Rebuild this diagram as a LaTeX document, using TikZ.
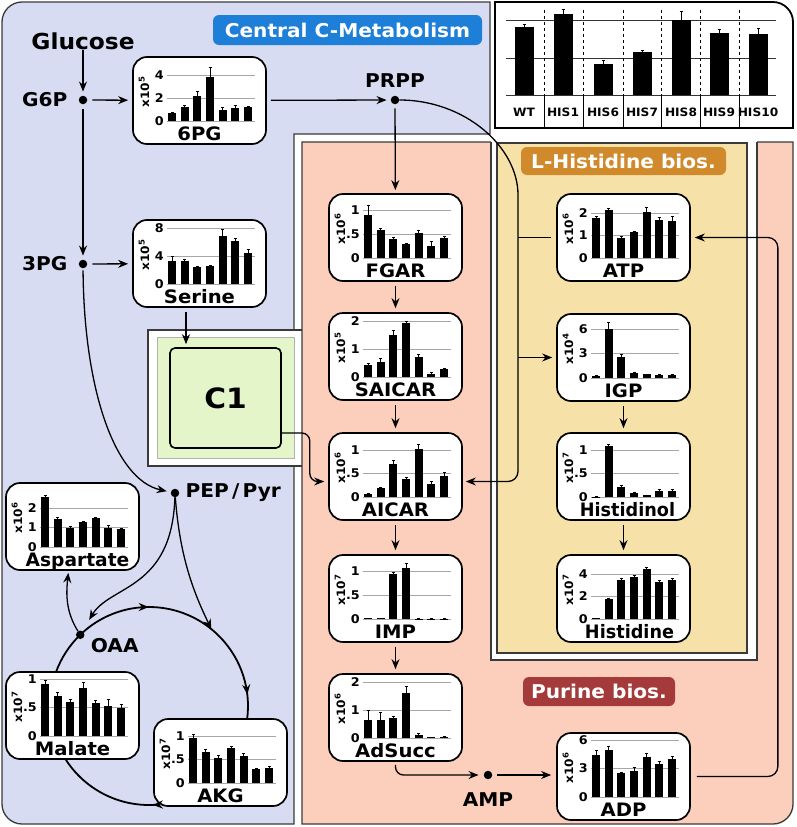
\documentclass[tikz,border=0pt]{standalone}
\usepackage{fontspec}
\setmainfont{DejaVu Sans}[FakeStretch=1.06]
\usepackage{tikz}
\usetikzlibrary{positioning, arrows.meta, calc, decorations.markings}
\definecolor{cmetblue}{HTML}{D8DCF3}
\definecolor{purpink}{HTML}{FCCFBD}
\definecolor{hisyellow}{HTML}{F6E2A8}
\definecolor{cgreen}{HTML}{E3F5C9}
\definecolor{titleblue}{HTML}{1D7FD8}
\definecolor{titleorange}{HTML}{D08A2C}
\definecolor{titlered}{HTML}{A43A3A}
\definecolor{panelline}{HTML}{3A3A3A}

% name, top-left, label, exponent, top tick, mid tick, top value, top height, bars
\newcommand{\minichart}[9]{%
  \begin{scope}[shift={(#2)}]
    \node[chartbox] (#1) at (66.5,43.5) {};
    \foreach \g in {0,0.5,1}
      \draw[gridln] (34,{64-\g*#8}) -- (122,{64-\g*#8});
    \foreach \bv/\be [count=\i] in {#9} {
      \pgfmathsetmacro{\bx}{26.33+\i*12.67}
      \fill (\bx-4,64) rectangle (\bx+4,{64-\bv/#7*#8});
      \draw[errbar] (\bx,{64-\bv/#7*#8}) -- (\bx,{64-\be/#7*#8});
      \draw[errbar] (\bx-1.5,{64-\be/#7*#8}) -- (\bx+1.5,{64-\be/#7*#8});
    }
    \node[ticklbl] at (31,{64-#8}) {#5};
    \node[ticklbl] at (31,{64-#8/2}) {#6};
    \node[ticklbl] at (31,64) {0};
    \node[explbl] at (11,35) {x10\textsuperscript{#4}};
    \node[chartlbl] at (66.5,83.5) {#3};
  \end{scope}}

\begin{document}
\begin{tikzpicture}[x=1pt, y=-1pt,
  chartbox/.style={rectangle, rounded corners=14pt, draw=black, line width=1.7pt, fill=white,
    minimum width=133pt, minimum height=87pt, inner sep=0pt},
  gridln/.style={gray!70, line width=0.7pt},
  errbar/.style={line width=0.7pt},
  ticklbl/.style={anchor=east, inner sep=0pt, font=\fontsize{12}{12}\selectfont\bfseries},
  explbl/.style={rotate=90, inner sep=0pt, font=\fontsize{11.5}{11.5}\selectfont\bfseries},
  chartlbl/.style={anchor=base, inner sep=0pt, font=\fontsize{18.5}{18.5}\selectfont\bfseries},
  metlbl/.style={inner sep=0pt, font=\fontsize{19}{19}\selectfont\bfseries},
  dotnd/.style={circle, fill=black, inner sep=0pt, minimum size=8.5pt},
  arr/.style={-{Stealth[length=10pt,width=8pt]}, line width=1.3pt},
  cyc/.style={line width=1.8pt},
  title/.style={rounded corners=6pt, text=white, inner sep=0pt, font=\fontsize{19}{19}\selectfont\bfseries},
  panel/.style={draw=panelline, line width=1.3pt},
  leglbl/.style={inner sep=0pt, font=\fontsize{11.5}{11.5}\selectfont\bfseries}
]
\useasboundingbox (0,0) rectangle (797,827);

% panels
\path[panel, fill=cmetblue] (2,22) .. controls (2,11) and (11,2) .. (22,2) -- (490,2) -- (490,134)
  -- (294,134) -- (294,824) -- (22,824) .. controls (11,824) and (2,815) .. (2,804) -- cycle;
\fill[white] (148,330) rectangle (302,466);
\draw[panel] (302,330) -- (148,330) -- (148,466) -- (302,466);
\path[panel, fill=purpink] (302,142) -- (793,142) -- (793,804) .. controls (793,815) and (784,824) .. (773,824)
  -- (302,824) -- cycle;
\fill[white] (491,134) rectangle (757,660);
\draw[panel] (491,142) -- (491,660) -- (757,660) -- (757,142);
\path[panel, fill=hisyellow] (497,143) rectangle (747,653);
\path[draw=black, line width=1.8pt, fill=white] (495,128) -- (495,2) -- (773,2) .. controls (784,2) and (793,11) .. (793,22)
  -- (793,128) -- cycle;
\draw[draw=gray!60, fill=cgreen] (157,337) rectangle (294,458);

\node[title, fill=titleblue, minimum width=269pt, minimum height=30pt] (cmettitle) at (347.5,30) {Central C-Metabolism};
\node[title, fill=titleorange, minimum width=205pt, minimum height=28pt] (histitle) at (623.5,161) {L-Histidine bios.};
\node[title, fill=titlered, minimum width=152pt, minimum height=29pt] (purtitle) at (599,691.5) {Purine bios.};

% legend
\foreach \gy in {20,58,95}
  \draw[gray!40!black, line width=0.8pt] (506,\gy) -- (776,\gy);
\foreach \sx in {544,583,623,661,700,739} {
  \draw[dashed, line width=0.8pt] (\sx,10) -- (\sx,95);
  \draw[line width=0.8pt] (\sx,95) -- (\sx,127);
}
\foreach \bx/\bt/\be in {524/27/24, 563/14/9, 603/64/60, 642/52/50, 681/20/11, 719/33/29, 758/34/28} {
  \fill (\bx-9.5,95) rectangle (\bx+9.5,\bt);
  \draw[errbar] (\bx,\bt) -- (\bx,\be);
  \draw[errbar] (\bx-1.5,\be) -- (\bx+1.5,\be);
}
\foreach \lx/\lt [count=\i] in {524/WT, 563/HIS1, 603/HIS6, 642/HIS7, 681/HIS8, 719/HIS9, 758/HIS10}
  \node[leglbl] (leg\i) at (\lx,112) {\lt};

% C1
\node[draw, line width=1.6pt, rounded corners=5pt, fill=cgreen, minimum width=111pt, minimum height=100pt,
  font=\fontsize{28}{28}\selectfont\bfseries] (c1in) at (225.5,398) {C1};

% charts
\minichart{pg6}{133,57}{6PG}{5}{4}{2}{4}{46}{0.7/0.75, 1.2/1.4, 2.2/2.6, 3.8/4.7, 1.0/1.15, 1.1/1.35, 1.2/1.3}
\minichart{ser}{133,220}{Serine}{5}{8}{4}{8}{56}{3.3/3.9, 3.3/3.5, 2.4/2.5, 2.6/2.7, 6.9/7.8, 6.1/6.5, 4.5/4.9}
\minichart{fgar}{329,194}{FGAR}{6}{1}{.5}{1}{48}{0.9/1.1, 0.58/0.62, 0.4/0.42, 0.3/0.31, 0.53/0.57, 0.26/0.34, 0.42/0.46}
\minichart{saicar}{329,313}{SAICAR}{5}{2}{1}{2}{56}{0.42/0.48, 0.54/0.68, 1.5/1.65, 1.93/1.97, 0.73/0.8, 0.12/0.15, 0.28/0.32}
\minichart{aicar}{329,433}{AICAR}{6}{1}{.5}{1}{47}{0.07/0.08, 0.19/0.2, 0.71/0.78, 0.39/0.42, 1.02/1.12, 0.27/0.33, 0.44/0.53}
\minichart{imp}{329,555}{IMP}{7}{1}{.5}{1}{48}{0.02/0.02, 0.02/0.02, 0.94/0.98, 1.06/1.16, 0.01/0.01, 0.01/0.01, 0.01/0.01}
\minichart{adsucc}{329,674}{AdSucc}{6}{2}{1}{2}{56}{0.66/0.97, 0.66/0.9, 0.73/0.77, 1.59/1.85, 0.12/0.15, 0.03/0.04, 0.05/0.06}
\minichart{adp}{557,733}{ADP}{6}{6}{3}{6}{57}{4.4/4.9, 5.0/5.3, 2.5/2.6, 2.75/3.1, 4.2/4.6, 3.5/3.75, 4.0/4.3}
\minichart{atp}{557,194}{ATP}{6}{2}{1}{2}{45}{1.8/1.85, 2.15/2.2, 0.88/0.95, 1.15/1.2, 2.03/2.25, 1.7/1.8, 1.65/1.85}
\minichart{igp}{557,314}{IGP}{4}{6}{3}{6}{49}{0.25/0.3, 6.0/6.8, 2.6/2.9, 0.65/0.75, 0.45/0.5, 0.35/0.4, 0.35/0.4}
\minichart{hol}{557,433}{\hspace*{8pt}\scalebox{0.9}[1]{Histidinol}}{7}{1}{.5}{1}{47}{0.01/0.01, 1.08/1.12, 0.21/0.24, 0.09/0.1, 0.04/0.04, 0.13/0.17, 0.13/0.17}
\minichart{his}{557,555}{\hspace*{12pt}\scalebox{0.9}[1]{Histidine}}{7}{4}{2}{4}{45}{0.05/0.05, 1.8/1.85, 3.5/3.6, 3.75/3.85, 4.45/4.6, 3.3/3.45, 3.5/3.65}
\minichart{asp}{6,483}{\hspace*{10pt}\scalebox{0.95}[1]{Aspartate}}{6}{2}{1}{2}{39}{2.55/2.65, 1.45/1.5, 1.0/1.05, 1.28/1.32, 1.47/1.52, 1.0/1.1, 0.9/0.95}
\minichart{mal}{6,672}{Malate}{7}{1}{.5}{1}{57}{0.91/0.97, 0.71/0.77, 0.6/0.65, 0.84/0.94, 0.58/0.63, 0.53/0.64, 0.49/0.56}
\minichart{akg}{154,719}{AKG}{7}{1}{.5}{1}{47}{0.96/1.03, 0.66/0.71, 0.53/0.59, 0.74/0.78, 0.58/0.64, 0.29/0.31, 0.32/0.36}

% metabolites
\coordinate (tca) at (149,706);
\node[inner sep=0pt, font=\fontsize{22}{22}\selectfont\bfseries] (glucose) at (83,41) {Glucose};
\node[dotnd] (g6p) at (83,100) {};
\node[metlbl, left=11pt of g6p] (g6plbl) {G6P};
\node[dotnd] (tpg) at (83,264) {};
\node[metlbl, left=11pt of tpg] (tpglbl) {3PG};
\node[dotnd] (prpp) at (395,100) {};
\node[metlbl, above=8pt of prpp] (prpplbl) {PRPP};
\node[dotnd] (pep) at (175,493) {};
\node[metlbl, right=6pt of pep] (peplbl) {PEP\,/\,Pyr};
\node[dotnd] (oaa) at ($(tca)+(-134:99)$) {};
\node[metlbl, right=6pt of oaa, yshift=-11pt] (oaalbl) {OAA};
\node[dotnd] (amp) at (488,775) {};
\node[metlbl, below=13pt of amp] (amplbl) {AMP};

% connectors
\draw[arr, shorten >=4pt] (glucose) -- (g6p);
\draw[arr, shorten <=5pt, shorten >=4pt] (g6p) -- (pg6);
\draw[arr, shorten <=5pt, shorten >=4pt] (g6p) -- (tpg);
\draw[arr, shorten <=5pt, shorten >=4pt] (tpg) -- (ser);
\draw[arr, shorten <=4pt, shorten >=3pt] ([xshift=-13.5pt]ser.south) -- ([xshift=-13.5pt]ser.south |- c1in.north);
\draw[arr, shorten <=4pt, shorten >=4pt] (pg6) -- (prpp);
\draw[arr, shorten <=4pt, shorten >=3pt] (prpp) -- (fgar);
\foreach \a/\b in {fgar/saicar, saicar/aicar, aicar/imp, imp/adsucc, igp/hol, hol/his}
  \draw[arr, shorten <=4pt, shorten >=4pt] (\a) -- (\b);

\coordinate (hisbus) at (518,205);
\coordinate (aicarin) at ([yshift=-5pt]aicar.east);
\coordinate (aicarleft) at ([yshift=-5pt]aicar.west);
\draw[arr, rounded corners=10pt, shorten >=3pt] (prpp.east) .. controls (465,100) and (518,147) .. (hisbus)
  -- (hisbus |- aicarin) -- (aicarin);
\draw[line width=1.3pt, shorten <=5pt] (atp) -- (atp.west -| hisbus);
\draw[arr, shorten >=4pt] (igp.west -| hisbus) -- (igp);
\draw[arr, rounded corners=8pt, shorten >=4pt] ([yshift=-35pt]c1in.east) -- ++(28,0) |- (aicarleft);
\draw[arr, rounded corners=8pt, shorten <=3pt, shorten >=5pt] (adsucc.south) |- (amp);
\draw[arr, shorten <=5pt, shorten >=5pt] (amp) -- (amp -| adp.west);
\draw[arr, rounded corners=10pt, shorten <=6pt, shorten >=4pt] (adp.east) -- ++(87,0) |- (atp.east);

\draw[arr, shorten <=2pt, shorten >=4pt] (tpg) .. controls (84,390) and (115,480) .. (pep);
\draw[arr, shorten >=13pt] (pep) .. controls (172,590) and (110,585) .. (oaa);
\coordinate (tcain) at ($(tca)+(-51:99)$);
\draw[arr] (pep) .. controls (180,560) and (195,595) .. (tcain);
\draw[arr, shorten >=2pt] (oaa) .. controls (66,612) and (66,595) .. ([xshift=-4pt]asp.south);

\draw[cyc, postaction={decorate}, decoration={markings,
    mark=at position 0.31 with {\arrow{Stealth[length=10pt,width=8pt]}},
    mark=at position 0.9 with {\arrow{Stealth[length=10pt,width=8pt]}}}]
  (oaa.center) arc[start angle=-134, end angle=7.5, radius=99];
\draw[cyc, postaction={decorate}, decoration={markings,
    mark=at position 0.06 with {\arrow{Stealth[length=10pt,width=8pt]}}}]
  ($(tca)+(84:99)$) arc[start angle=84, end angle=147, radius=99];
\draw[cyc] ($(tca)+(-160:99)$) arc[start angle=-160, end angle=-134, radius=99];
\end{tikzpicture}
\end{document}
